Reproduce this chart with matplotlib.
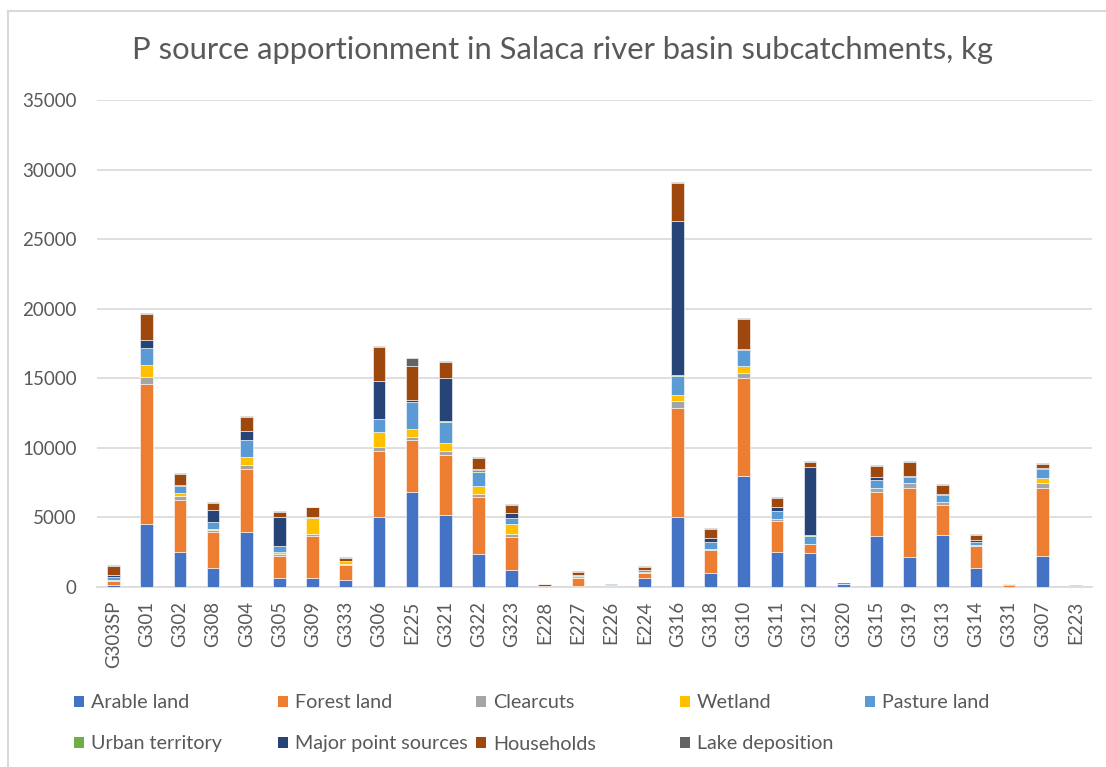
import matplotlib
matplotlib.use("Agg")
import matplotlib.pyplot as plt
from matplotlib.patches import Patch
from matplotlib.lines import Line2D
import numpy as np

plt.rcParams['font.family'] = ['Lato', 'DejaVu Sans']

subcatchments = ["G303SP", "G301", "G302", "G308", "G304", "G305", "G309", "G333",
                 "G306", "E225", "G321", "G322", "G323", "E228", "E227", "E226",
                 "E224", "G316", "G318", "G310", "G311", "G312", "G320", "G315",
                 "G319", "G313", "G314", "G331", "G307", "E223"]

arable = [120, 4510, 2520, 1370, 3985, 625, 625, 530, 5000, 6810, 5165, 2405, 1240, 20,
          100, 80, 650, 5060, 1030, 7990, 2545, 2450, 240, 3670, 2185, 3745, 1345, 0,
          2255, 20]
forest = [300, 10080, 3720, 2570, 4465, 1610, 3025, 1055, 4810, 3735, 4330, 4095, 2355, 80,
          560, 0, 360, 7840, 1610, 7030, 2210, 625, 0, 3190, 4940, 2160, 1585, 120,
          4850, 20]
clearcuts = [50, 530, 265, 170, 335, 120, 170, 50, 260, 240, 260, 215, 190, 0,
             0, 0, 95, 480, 70, 385, 145, 50, 0, 265, 335, 215, 95, 0,
             360, 0]
wetland = [30, 840, 215, 70, 575, 145, 1150, 240, 1070, 595, 570, 570, 740, 0,
           110, 0, 0, 430, 0, 480, 0, 0, 0, 0, 0, 0, 0, 0,
           335, 0]
pasture = [200, 1225, 505, 480, 1225, 430, 95, 0, 905, 1905, 1525, 1000, 405, 0,
           60, 90, 95, 1320, 550, 1150, 575, 550, 100, 575, 480, 505, 215, 0,
           695, 0]
urban = [10, 0, 0, 0, 0, 0, 0, 0, 50, 0, 70, 95, 0, 0,
         0, 0, 0, 95, 0, 0, 0, 95, 0, 0, 0, 0, 0, 0,
         0, 0]
point_sources = [150, 575, 95, 840, 600, 2135, 0, 0, 2715, 145, 3070, 95, 405, 0,
                 0, 0, 0, 11100, 240, 70, 240, 4870, 0, 240, 50, 50, 170, 0,
                 50, 0]
households = [650, 1870, 815, 505, 1010, 360, 650, 240, 2405, 2475, 1165, 785, 525, 100,
              260, 0, 240, 2690, 695, 2185, 695, 360, 0, 745, 985, 625, 360, 60,
              290, 0]
lake = [60, 75, 70, 70, 70, 70, 70, 70, 70, 545, 70, 70, 70, 30,
        70, 30, 70, 70, 70, 70, 70, 70, 40, 70, 70, 70, 70, 30,
        70, 100]

series = [
    ("Arable land", arable, "#4472C4"),
    ("Forest land", forest, "#ED7D31"),
    ("Clearcuts", clearcuts, "#A5A5A5"),
    ("Wetland", wetland, "#FFC000"),
    ("Pasture land", pasture, "#5B9BD5"),
    ("Urban territory", urban, "#70AD47"),
    ("Major point sources", point_sources, "#264478"),
    ("Households", households, "#9E480E"),
    ("Lake deposition", lake, "#636363"),
]

W, H = 1106, 767
fig = plt.figure(figsize=(W / 100, H / 100), dpi=100)
ax = fig.add_axes([97 / W, 1 - 587 / H, 995 / W, 487 / H])

x = np.arange(len(subcatchments))
bottom = np.zeros(len(subcatchments))
handles = []
for name, vals, color in series:
    vals = np.array(vals, dtype=float)
    ax.bar(x, vals, width=0.38, bottom=bottom, color=color,
           edgecolor="white", linewidth=0.4, zorder=3)
    bottom += vals
    handles.append(Patch(facecolor=color, label=name))

ax.set_xlim(-0.5, len(subcatchments) - 0.5)
ax.set_ylim(0, 35000)
ax.set_yticks(np.arange(0, 35001, 5000))
ax.set_xticks(x)
ax.set_xticklabels(subcatchments, rotation=90)
ax.tick_params(axis="both", length=0, colors="#595959")
ax.tick_params(axis="y", pad=14.5, labelsize=13.5)
ax.tick_params(axis="x", pad=10, labelsize=13.4)
ax.grid(axis="y", color="#D9D9D9", linewidth=1.2, zorder=0)
for side in ("top", "right", "left"):
    ax.spines[side].set_visible(False)
ax.spines["bottom"].set_color("#D9D9D9")
ax.spines["bottom"].set_linewidth(1.2)

fig.text(563 / W, 1 - 50 / H,
         "P source apportionment in Salaca river basin subcatchments, kg",
         ha="center", va="center", fontsize=22.3, color="#595959")

# legend laid out row by row, five entries per row
legend_x = [74, 278, 476, 680, 865]
legend_y = [703, 744]
for i, h in enumerate(handles):
    r, c = divmod(i, 5)
    fig.legend(handles=[h], loc="center left",
               bbox_to_anchor=(legend_x[c] / W, 1 - legend_y[r] / H),
               frameon=False, fontsize=14.2, handlelength=0.5, handleheight=0.5,
               handletextpad=0.35, borderpad=0, borderaxespad=0,
               labelcolor="#595959")

# chart-area border along the left and top edges
fig.add_artist(Line2D([7.5 / W, 7.5 / W], [0, 1 - 11 / H], transform=fig.transFigure,
                      color="#D9D9D9", linewidth=1.5))
fig.add_artist(Line2D([7.5 / W, 1], [1 - 11 / H, 1 - 11 / H], transform=fig.transFigure,
                      color="#D9D9D9", linewidth=1.5))

fig.savefig("out.png", dpi=100)
